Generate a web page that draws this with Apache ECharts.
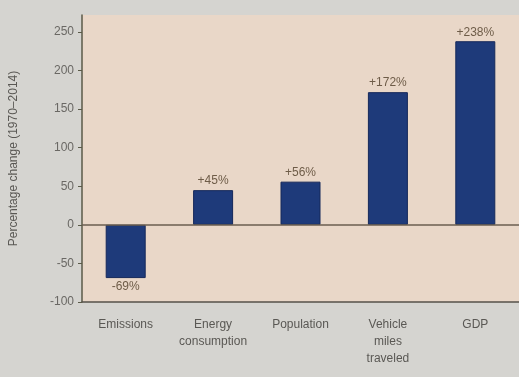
<!DOCTYPE html>
<html><head><meta charset="utf-8">
<script src="https://cdn.jsdelivr.net/npm/echarts@6/dist/echarts.min.js"></script>
<style>html,body{margin:0;padding:0;background:#d5d4d0;}#c{width:519px;height:377px;}</style>
</head><body><div id="c"></div>
<script>
const categories = ['Emissions', 'Energy\nconsumption', 'Population', 'Vehicle\nmiles\ntraveled', 'GDP'];
const values = [-69, 45, 56, 172, 238];
const valueLabels = ['-69%', '+45%', '+56%', '+172%', '+238%'];
const yTicks = [-100, -50, 0, 50, 100, 150, 200, 250];

const chart = echarts.init(document.getElementById('c'));
chart.setOption({
  backgroundColor: '#d5d4d0',
  animation: false,
  grid: { left: 82, right: 0, top: 15, bottom: 75, show: true, backgroundColor: '#e9d7c8', borderWidth: 0 },
  xAxis: {
    type: 'category', data: categories,
    axisLine: { onZero: false, lineStyle: { color: '#55524a', width: 1.5 } },
    axisTick: { show: false },
    axisLabel: { color: '#5a5854', fontSize: 12, fontFamily: 'Liberation Sans', margin: 14, lineHeight: 17, interval: 0 }
  },
  yAxis: {
    type: 'value', min: -100, max: 272,
    name: 'Percentage change (1970–2014)', nameLocation: 'middle', nameGap: 62,
    nameTextStyle: { color: '#5a5854', fontSize: 12, fontFamily: 'Liberation Sans' },
    axisLine: { show: true, lineStyle: { color: '#5a5a48', width: 1.5 } },
    axisTick: { show: true, length: 4, customValues: yTicks, lineStyle: { color: '#5a5a48' } },
    axisLabel: { customValues: yTicks, color: '#6a6864', fontSize: 12, fontFamily: 'Liberation Sans', margin: 8 },
    splitLine: { show: false }
  },
  series: [{
    type: 'bar', barWidth: 40,
    itemStyle: { color: '#1e3a7a', borderColor: '#15285a', borderWidth: 1 },
    data: values.map((v, i) => ({
      value: v,
      label: { show: true, position: v < 0 ? 'bottom' : 'top', distance: 3, formatter: valueLabels[i],
        color: '#6e5c48', fontSize: 12, fontFamily: 'Liberation Sans' }
    })),
    markLine: {
      silent: true, symbol: 'none', label: { show: false },
      lineStyle: { color: '#6a5e50', type: 'solid', width: 1.5 },
      data: [{ yAxis: 0 }]
    }
  }]
});
</script></body></html>
